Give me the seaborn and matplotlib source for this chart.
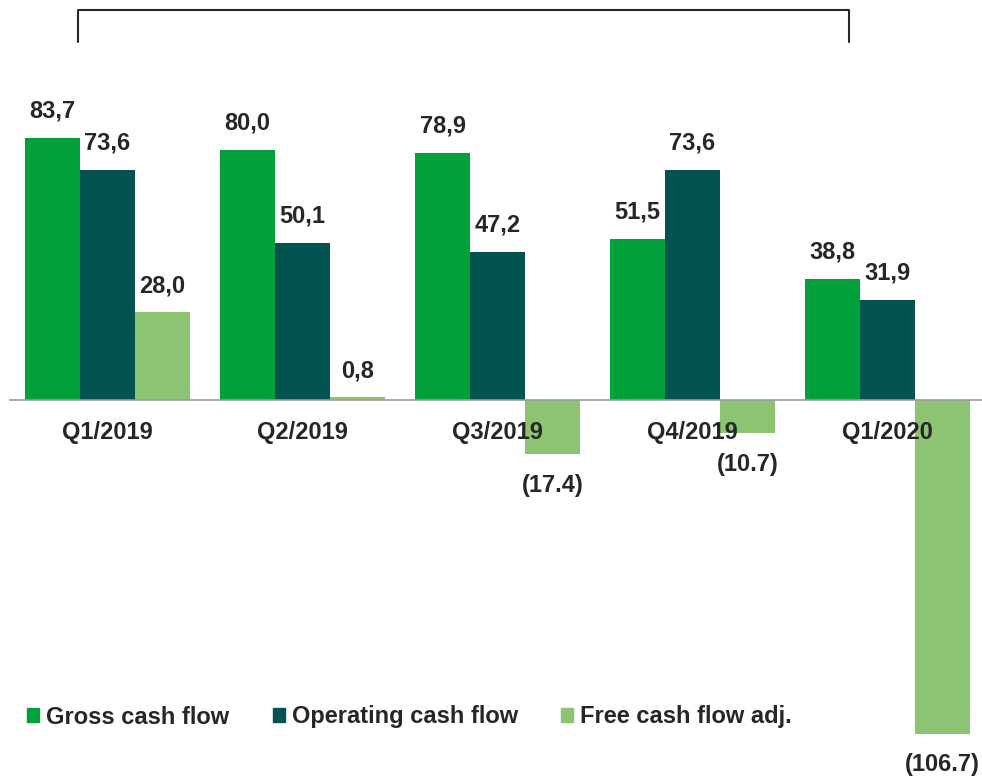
import pandas as pd
import matplotlib.pyplot as plt
import seaborn as sns
from matplotlib.patches import Patch
from matplotlib.lines import Line2D

quarters = ["Q1/2019", "Q2/2019", "Q3/2019", "Q4/2019", "Q1/2020"]
series = ["Gross cash flow", "Operating cash flow", "Free cash flow adj."]
gross = [83.7, 80.0, 78.9, 51.5, 38.8]
operating = [73.6, 50.1, 47.2, 73.6, 31.9]
free_cf = [28.0, 0.8, -17.4, -10.7, -106.7]
colors = ["#00A03B", "#035450", "#8CC474"]

df = pd.DataFrame({
    "quarter": quarters * 3,
    "series": [s for s in series for _ in quarters],
    "value": gross + operating + free_cf,
})

sns.set_style("white")
plt.rcParams["font.family"] = ["Liberation Sans", "DejaVu Sans"]
plt.rcParams["font.weight"] = "bold"
text_col = "#262626"

fig = plt.figure(figsize=(9.82, 7.76), dpi=100)
ax = fig.add_axes([10 / 982, 0, 975 / 982, 1])

sns.barplot(data=df, x="quarter", y="value", hue="series", order=quarters,
            hue_order=series, palette=colors, saturation=1, width=0.846, gap=0,
            errorbar=None, linewidth=0, legend=False, ax=ax)

ax.set_xlim(-0.5, 4.5)
ax.set_ylim(-376 / 3.13, 400 / 3.13)
for s in ["top", "left", "right"]:
    ax.spines[s].set_visible(False)
ax.spines["bottom"].set_position(("data", 0))
ax.spines["bottom"].set_color("#9A9A9A")
ax.spines["bottom"].set_linewidth(1.2)
ax.set_yticks([])
ax.set_xlabel("")
ax.set_ylabel("")
ax.tick_params(axis="x", which="major", length=0, pad=15, labelsize=17,
               labelcolor=text_col)
ax.set_xticks([i - 0.5 for i in range(6)], minor=True)
ax.tick_params(axis="x", which="minor", length=5, width=1.2, color="#9A9A9A",
               direction="out")
for lbl in ax.get_xticklabels():
    lbl.set_fontweight("bold")
# quarter names sit on top of the bars
ax.xaxis.set_zorder(5)

for cont in ax.containers:
    for bar in cont:
        v = bar.get_height()
        x = bar.get_x() + bar.get_width() / 2
        if v >= 0:
            txt = f"{v:.1f}".replace(".", ",")
            ax.annotate(txt, (x, v), xytext=(0, 11), textcoords="offset points",
                        ha="center", va="bottom", fontsize=17,
                        fontweight="bold", color=text_col)
        else:
            txt = f"({-v:.1f})"
            ax.annotate(txt, (x, v), xytext=(0, -14), textcoords="offset points",
                        ha="center", va="top", fontsize=17,
                        fontweight="bold", color=text_col)

# bracket at the top
bx = [78 / 982, 78 / 982, 849 / 982, 849 / 982]
by = [1 - 42 / 776, 1 - 10 / 776, 1 - 10 / 776, 1 - 42 / 776]
fig.add_artist(Line2D(bx, by, color="#262626", lw=1.5, transform=fig.transFigure))

handles = [Patch(color=c, label=s) for c, s in zip(colors, series)]
fig.legend(handles=handles, loc="center left", bbox_to_anchor=(27 / 982, 1 - 717 / 776),
           ncol=3, frameon=False, fontsize=17, handlelength=0.5, handleheight=0.5,
           handletextpad=0.3, columnspacing=1.85, borderpad=0, borderaxespad=0,
           labelcolor=text_col)

fig.savefig("out.png", dpi=100)
